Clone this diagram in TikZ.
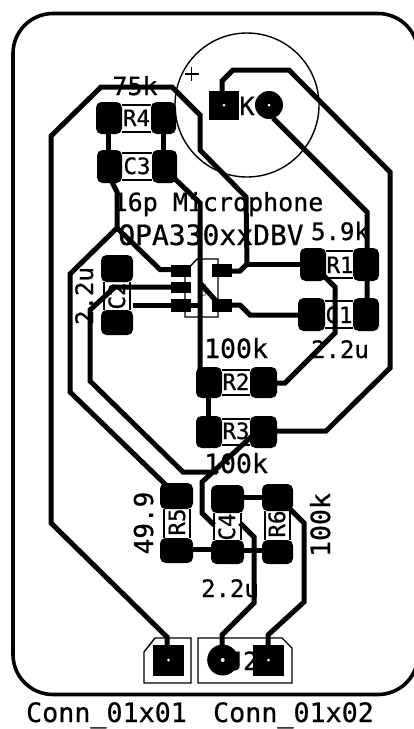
\documentclass[tikz,border=0pt]{standalone}
\usepackage{fontspec}
\setmonofont[RawFeature={embolden=0.7}]{DejaVu Sans Mono}
\newcommand{\fs}[1]{\fontsize{#1}{#1}\selectfont\ttfamily}
\tikzset{
  edgecut/.style={draw=black,line width=3.6pt},
  track/.style={draw=black,line width=5pt,line join=miter},
  silk/.style={draw=black,line width=1.4pt},
  lbl/.style={anchor=base,inner sep=0pt,font=\fs{25},text=black},
  small/.style={anchor=base,inner sep=0pt,font=\fs{22.5},text=black},
  hole/.style={fill=white,draw=none,circle,minimum size=3pt,inner sep=0pt},
}
% name, x0, x1, y0, y1: rounded SMD pad
\newcommand{\smd}[5]{\fill[black,rounded corners=5.5pt] (#2,#4) rectangle (#3,#5) coordinate[pos=.5] (#1);}
\begin{document}
\begin{tikzpicture}[x=1pt,y=-1pt]
\useasboundingbox (0,0) rectangle (414,729);
\clip (0,0) rectangle (414,729);
\fill[white] (0,0) rectangle (414,729);
% board outline
\draw[edgecut,rounded corners=40pt] (13,13.5) rectangle (418,694.5);
% microphone silk
\draw[silk] (247,105) circle (72);
\draw[silk] (185,74) -- (199,74) (191.5,67) -- (191.5,81);
% silk label bars
\foreach \xa/\xb/\ya/\yb in {122/151/105/132, 122/152/153/180, 326/353/251/278, 325/353/301/328, 222/250/370/395, 222/250/419/445}{
  \draw[silk] (\xa,\ya) -- (\xb,\ya) (\xa,\yb) -- (\xb,\yb);
}
\foreach \xa/\xb/\ya/\yb in {104/130/282/310, 164/190/509/538, 214/241/513/540, 265/290/511/540}{
  \draw[silk] (\xa,\ya) -- (\xa,\yb) (\xb,\ya) -- (\xb,\yb);
}
% U1 silk
\draw[silk] (185,317) -- (218,317) -- (218,259) -- (197,259) -- (185,272) -- cycle;
% connector silk
\draw[silk] (144,652) -- (155,638) -- (191,638) -- (191,683) -- (144,683) -- cycle;
\draw[silk] (198,638) -- (282,638) -- (292,648) -- (292,683) -- (198,683) -- cycle;
% texts
\node[lbl] (t75k) at (135,95) {75k};
\node[lbl] (tmic) at (218,211) {16p Microphone};
\node[lbl,font=\fs{28}] (topa) at (211,245) {OPA330xxDBV};
\node[lbl,font=\fs{24}] (t59k) at (340,240) {5.9k};
\node[lbl,font=\fs{26.5}] (t100a) at (236,358) {100k};
\node[lbl,font=\fs{24}] (t22a) at (340,358) {2.2u};
\node[lbl,font=\fs{26.5}] (t100b) at (236,473) {100k};
\node[lbl,font=\fs{24}] (t22b) at (230,597) {2.2u};
\node[lbl,font=\fs{26},rotate=90] (t499) at (153,523) {49.9};
\node[lbl,font=\fs{26.5},rotate=90] (t100c) at (330,525) {100k};
\node[lbl,font=\fs{24},rotate=90] (t22c) at (93,296) {2.2u};
\node[lbl,font=\fs{25}] (tK) at (247,115) {K};
\node[lbl,font=\fs{25}] (tJ2) at (243,670) {J2};
\node[small] (tR4) at (136.5,126) {R4};
\node[small] (tC3) at (137,174) {C3};
\node[small] (tR1) at (340,273) {R1};
\node[small] (tC1) at (339,323) {C1};
\node[small] (tR2) at (236,390) {R2};
\node[small] (tR3) at (236,439) {R3};
\node[small,rotate=90] (tC2) at (125,296) {C2};
\node[small,rotate=90] (tR5) at (185,522) {R5};
\node[small,rotate=90] (tC4) at (235,527) {C4};
\node[small,rotate=90] (tR6) at (285,524) {R6};
\node[lbl,font=\fs{26.7}] (tc1) at (106.5,722) {Conn\_01x01};
\node[lbl,font=\fs{26.7}] (tc2) at (293.5,722) {Conn\_01x02};
% U1 small value
\node[anchor=center,inner sep=0pt,font=\fs{11},text=black!45,rotate=90] (tU) at (202,290) {U1};
% tracks
\draw[track] (222,92) -- (222,81) -- (233,70) -- (289,70) -- (390,172) -- (390,368) -- (326,431) -- (270,431);
\draw[track] (273,118) -- (367,212) -- (367,310);
\draw[track] (222,271) -- (240,271) -- (247,264) -- (246,197) -- (200,150) -- (200,115) -- (172,87) -- (101,87) -- (51,136) -- (51,523) -- (167,637) -- (167,650);
\draw[track] (246,264) -- (305,264);
\draw[track] (108,130) -- (108,155);
\draw[track] (163,130) -- (163,155);
\draw[track] (110,178) -- (117,192) -- (117,228) -- (70,274) -- (70,392) -- (167,486);
\draw[track] (117,228) -- (160,269.5) -- (175,269.5);
\draw[track] (172,176) -- (200,203) -- (200,375);
\draw[track] (133,305) -- (200,305);
\draw[track] (200,283) -- (218,303);
\draw[track] (177,287) -- (122,287) -- (115,287) -- (90,310) -- (90,381) -- (183,472) -- (217,472);
\draw[track] (252,436) -- (202,482) -- (202,513) -- (214,525);
\draw[track] (240,523) -- (254,537) -- (254,603) -- (222,635) -- (222,650);
\draw[track] (290,509) -- (304,523) -- (304,602) -- (268,635) -- (268,650);
\draw[track] (225,305) -- (240,305) -- (250,315) -- (305,315);
\draw[track] (320,272) -- (335,287) -- (335,333) -- (285,383) -- (270,383);
\draw[track] (208,390) -- (208,425);
\draw[track] (240,497) -- (265,497);
\draw[track] (190,549) -- (215,549);
\draw[track] (240,550) -- (265,550);
% SMD pads
\smd{R4a}{96}{122}{102}{134} \smd{R4b}{151}{176}{102}{134}
\smd{C3a}{97}{122}{150}{183} \smd{C3b}{152}{177}{150}{183}
\smd{C2a}{101}{133}{255}{282} \smd{C2b}{101}{133}{310}{335}
\smd{R1a}{300}{326}{248}{281} \smd{R1b}{353}{379}{248}{281}
\smd{C1a}{298}{325}{298}{331} \smd{C1b}{353}{379}{298}{331}
\smd{R2a}{196}{222}{367}{398} \smd{R2b}{250}{277}{367}{398}
\smd{R3a}{196}{222}{416}{448} \smd{R3b}{250}{277}{416}{448}
\smd{R5a}{160}{193}{483}{509} \smd{R5b}{160}{193}{538}{563}
\smd{C4a}{211}{244}{485}{513} \smd{C4b}{211}{244}{540}{564}
\smd{R6a}{262}{293}{484}{511} \smd{R6b}{262}{293}{540}{564}
% U1 pads
\fill (171,265) rectangle (191,277);
\fill (171,282) rectangle (191,293);
\fill (171,299) rectangle (191,312);
\fill (212,264) rectangle (232,277);
\fill (212,299) rectangle (232,312);
% through-hole pads
\fill (208.5,91) rectangle (239,120);
\node[hole] (h1) at (224,105) {};
\fill (269,105) circle (14);
\node[hole] (h2) at (269,105) {};
\fill (153,645) rectangle (184,676);
\node[hole] (h3) at (168.5,660) {};
\fill (222.7,660) circle (15.5);
\node[hole,minimum size=4pt] (h4) at (222.7,660) {};
\fill (253,645) rectangle (284,676);
\node[hole] (h5) at (268.5,660) {};
\end{tikzpicture}
\end{document}
